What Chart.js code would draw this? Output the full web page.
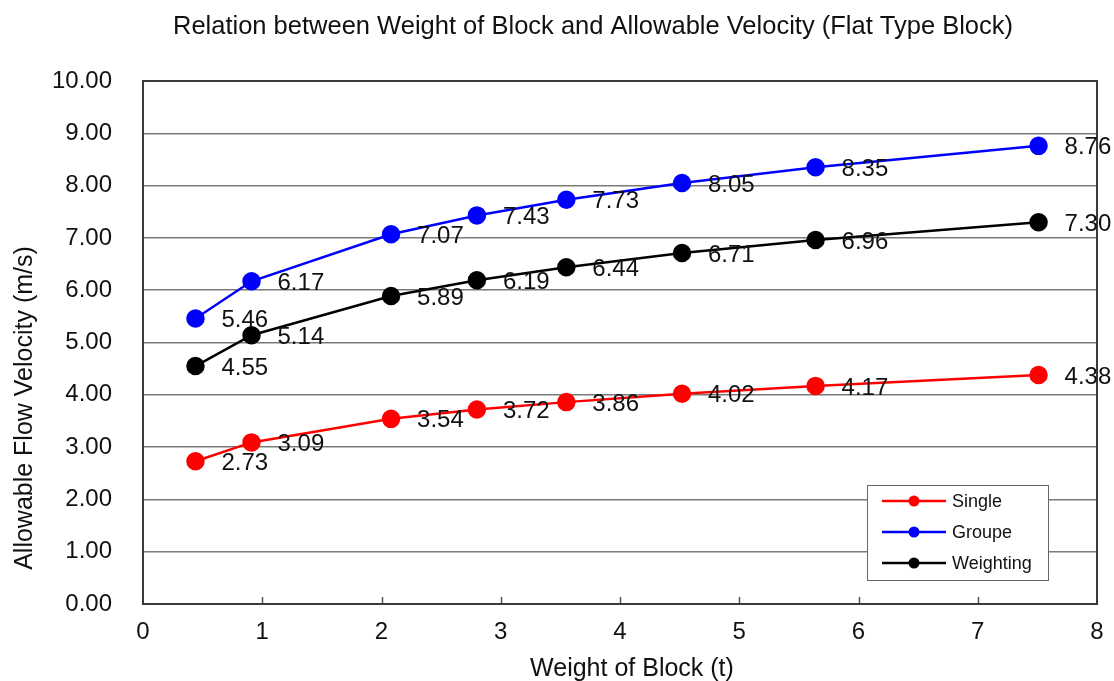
<!DOCTYPE html>
<html>
<head>
<meta charset="utf-8">
<script src="https://cdn.jsdelivr.net/npm/chart.js@4.4.1/dist/chart.umd.min.js"></script>
<style>
  html, body { margin: 0; padding: 0; background: #ffffff; }
  #wrap { width: 1114px; height: 681px; }
</style>
</head>
<body>
<div id="wrap"><canvas id="chart" width="1114" height="681"></canvas></div>
<script>
// Block weight (t) for each tested block
const weights = [0.44, 0.91, 2.08, 2.80, 3.55, 4.52, 5.64, 7.51];
// Allowable flow velocity (m/s) by placement type
const singleVel = [2.73, 3.09, 3.54, 3.72, 3.86, 4.02, 4.17, 4.38];
const groupeVel = [5.46, 6.17, 7.07, 7.43, 7.73, 8.05, 8.35, 8.76];
const weightingVel = [4.55, 5.14, 5.89, 6.19, 6.44, 6.71, 6.96, 7.30];
const seriesNames = ['Single', 'Groupe', 'Weighting'];
const seriesColors = ['#ff0000', '#0000ff', '#000000'];

const chartTitle = 'Relation between Weight of Block and Allowable Velocity (Flat Type Block)';
const xTitle = 'Weight of Block (t)';
const yTitle = 'Allowable Flow Velocity (m/s)';

const FONT = '"Liberation Sans", Arial, sans-serif';

function toPoints(ys) {
  return weights.map((w, i) => ({ x: w, y: ys[i] }));
}

const datasets = [singleVel, groupeVel, weightingVel].map((vals, i) => ({
  label: seriesNames[i],
  data: toPoints(vals),
  borderColor: seriesColors[i],
  backgroundColor: seriesColors[i],
  pointBackgroundColor: seriesColors[i],
  pointBorderColor: seriesColors[i],
  pointRadius: 8,
  pointHoverRadius: 8,
  borderWidth: 2.5,
  tension: 0
}));

// Frame, inner x tick marks, value labels, axis titles, header and legend box
const decorations = {
  id: 'decorations',
  beforeDatasetsDraw(chart) {
    const { ctx, chartArea: a, scales } = chart;
    ctx.save();
    ctx.strokeStyle = '#555555';
    ctx.lineWidth = 1.5;
    scales.x.ticks.forEach(t => {
      if (t.value <= 0 || t.value >= 8) return;
      const px = Math.round(scales.x.getPixelForValue(t.value)) + 0.5;
      ctx.beginPath();
      ctx.moveTo(px, a.bottom);
      ctx.lineTo(px, a.bottom - 7);
      ctx.stroke();
    });
    ctx.strokeStyle = '#3a3a3a';
    ctx.lineWidth = 2;
    ctx.strokeRect(a.left, a.top, a.right - a.left, a.bottom - a.top);
    ctx.restore();
  },
  afterDatasetsDraw(chart) {
    const { ctx } = chart;
    ctx.save();
    // value labels beside each marker
    ctx.font = '24px ' + FONT;
    ctx.fillStyle = '#111111';
    ctx.textAlign = 'left';
    ctx.textBaseline = 'middle';
    chart.data.datasets.forEach((ds, di) => {
      const meta = chart.getDatasetMeta(di);
      meta.data.forEach((pt, i) => {
        ctx.fillText(ds.data[i].y.toFixed(2), pt.x + 26, pt.y + 2);
      });
    });

    // header
    ctx.font = '25.5px ' + FONT;
    ctx.textAlign = 'center';
    ctx.fillText(chartTitle, 593, 27);

    // x axis title
    ctx.font = '25px ' + FONT;
    ctx.fillText(xTitle, 632, 669);

    // y axis title
    ctx.save();
    ctx.translate(25, 408);
    ctx.rotate(-Math.PI / 2);
    ctx.fillText(yTitle, 0, 0);
    ctx.restore();

    // legend box
    const bx = 867, by = 485, bw = 181, bh = 95;
    ctx.fillStyle = '#ffffff';
    ctx.fillRect(bx, by, bw, bh);
    ctx.strokeStyle = '#666666';
    ctx.lineWidth = 1;
    ctx.strokeRect(bx + 0.5, by + 0.5, bw, bh);
    ctx.font = '18px ' + FONT;
    ctx.textAlign = 'left';
    chart.data.datasets.forEach((ds, i) => {
      const y = by + 16 + i * 31;
      ctx.strokeStyle = ds.borderColor;
      ctx.lineWidth = 2.5;
      ctx.beginPath();
      ctx.moveTo(bx + 15, y);
      ctx.lineTo(bx + 79, y);
      ctx.stroke();
      ctx.fillStyle = ds.borderColor;
      ctx.beginPath();
      ctx.arc(bx + 47, y, 5.5, 0, Math.PI * 2);
      ctx.fill();
      ctx.fillStyle = '#111111';
      ctx.fillText(ds.label, bx + 85, y + 1);
    });
    ctx.restore();
  }
};

new Chart(document.getElementById('chart'), {
  type: 'line',
  data: { datasets },
  options: {
    responsive: false,
    animation: false,
    layout: { padding: { top: 81, right: 17, left: 0, bottom: 0 } },
    plugins: {
      legend: { display: false },
      title: { display: false },
      tooltip: { enabled: false }
    },
    scales: {
      x: {
        type: 'linear',
        min: 0,
        max: 8,
        ticks: {
          stepSize: 1,
          color: '#111111',
          font: { family: FONT, size: 24 },
          padding: 14
        },
        grid: { display: false, drawTicks: false },
        border: { display: false },
        afterFit(scale) {
          scale.height = 77;
          scale.paddingLeft = 0;
          scale.paddingRight = 0;
        }
      },
      y: {
        min: 0,
        max: 10,
        ticks: {
          stepSize: 1,
          color: '#111111',
          font: { family: FONT, size: 24 },
          padding: 31,
          callback: v => v.toFixed(2)
        },
        grid: { color: '#7a7a7a', lineWidth: 1.5, drawTicks: false },
        border: { display: false },
        afterFit(scale) { scale.width = 143; }
      }
    }
  },
  plugins: [decorations]
});
</script>
</body>
</html>
